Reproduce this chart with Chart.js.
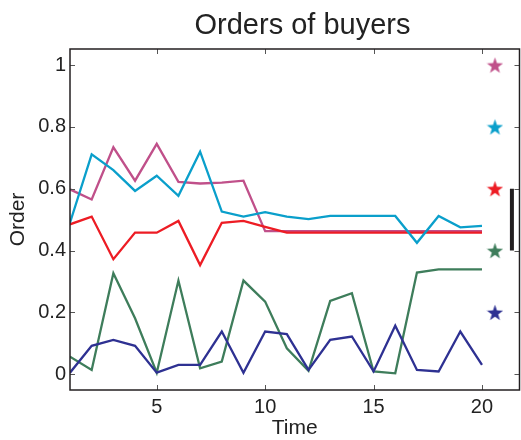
<!DOCTYPE html>
<html>
<head>
<meta charset="utf-8">
<script src="https://cdn.jsdelivr.net/npm/chart.js@4/dist/chart.umd.min.js"></script>
<style>
  html, body { margin: 0; padding: 0; background: #fff; }
  #wrap { width: 521px; height: 440px; }
</style>
</head>
<body>
<div id="wrap"><canvas id="c" width="521" height="440"></canvas></div>
<script>
// Time steps and each buyer's order over time
const times = [1,2,3,4,5,6,7,8,9,10,11,12,13,14,15,16,17,18,19,20];
const pinkOrder  = [0.598,0.565,0.734,0.626,0.745,0.622,0.617,0.620,0.626,0.463,0.463,0.463,0.463,0.463,0.463,0.463,0.463,0.463,0.463,0.463];
const cyanOrder  = [0.490,0.711,0.660,0.593,0.642,0.577,0.720,0.526,0.510,0.524,0.510,0.502,0.512,0.512,0.512,0.512,0.425,0.512,0.475,0.480];
const redOrder   = [0.485,0.510,0.372,0.458,0.458,0.496,0.353,0.490,0.496,0.477,0.458,0.458,0.458,0.458,0.458,0.458,0.458,0.458,0.458,0.458];
const greenOrder = [0.057,0.014,0.327,0.181,0.005,0.303,0.019,0.041,0.303,0.235,0.084,0.011,0.237,0.262,0.009,0.003,0.329,0.339,0.339,0.339];
const navyOrder  = [0.005,0.092,0.111,0.092,0.005,0.030,0.030,0.138,0.005,0.138,0.130,0.014,0.111,0.122,0.009,0.157,0.014,0.009,0.138,0.030];

// Reference star markers (one per buyer) and the bracket bar
const starTime = 20.6;
const starLevels = [1.0, 0.8, 0.6, 0.4, 0.2];
const barTime = 21.38;
const barRange = [0.4, 0.6];

// Tick labels
const xTicks = [5, 10, 15, 20];
const yTicks = [0, 0.2, 0.4, 0.6, 0.8, 1];

const titleText = 'Orders of buyers';

const colors = {
  pink: '#c0508a',
  cyan: '#0a9fcb',
  red: '#ed1c24',
  green: '#3e7d5b',
  navy: '#2e3192',
  ink: '#231f20'
};
const starColors = [colors.pink, colors.cyan, colors.red, colors.green, colors.navy];

function starCanvas(color, size) {
  const cv = document.createElement('canvas');
  cv.width = size; cv.height = size;
  const g = cv.getContext('2d');
  const cx = size / 2, cy = size / 2 + size * 0.05;
  const R = size / 2, r = R * 0.4;
  g.beginPath();
  for (let i = 0; i < 10; i++) {
    const rad = i % 2 === 0 ? R : r;
    const a = -Math.PI / 2 + i * Math.PI / 5;
    const px = cx + rad * Math.cos(a), py = cy + rad * Math.sin(a);
    if (i === 0) g.moveTo(px, py); else g.lineTo(px, py);
  }
  g.closePath();
  g.fillStyle = color;
  g.fill();
  return cv;
}

function series(values, color) {
  return {
    type: 'line',
    data: times.map((t, i) => ({ x: t, y: values[i] })),
    borderColor: color,
    backgroundColor: color,
    borderWidth: 2.3,
    pointRadius: 0,
    tension: 0,
    fill: false
  };
}

const FONT = '"Liberation Sans", Arial, Helvetica, sans-serif';

// Title text, placed over the plot box
const titlePlugin = {
  id: 'plotTitle',
  afterDraw(chart) {
    const { ctx } = chart;
    ctx.save();
    ctx.font = '29px ' + FONT;
    ctx.fillStyle = '#222';
    ctx.textAlign = 'center';
    ctx.textBaseline = 'alphabetic';
    ctx.fillText(titleText, 302.5, 33.5);
    ctx.restore();
  }
};

// Box frame with inward ticks on all four sides
const framePlugin = {
  id: 'frame',
  afterDatasetsDraw(chart) {
    const { ctx, chartArea: a, scales } = chart;
    ctx.save();
    ctx.lineWidth = 1;
    ctx.strokeStyle = '#555';
    ctx.beginPath();
    xTicks.forEach(v => {
      const px = Math.round(scales.x.getPixelForValue(v)) + 0.5;
      ctx.moveTo(px, a.bottom); ctx.lineTo(px, a.bottom - 5);
      ctx.moveTo(px, a.top); ctx.lineTo(px, a.top + 5);
    });
    yTicks.forEach(v => {
      const py = Math.round(scales.y.getPixelForValue(v)) + 0.5;
      ctx.moveTo(a.left, py); ctx.lineTo(a.left + 5, py);
      ctx.moveTo(a.right, py); ctx.lineTo(a.right - 5, py);
    });
    ctx.stroke();
    ctx.lineWidth = 1.5;
    ctx.strokeStyle = colors.ink;
    ctx.strokeRect(a.left, a.top, a.right - a.left, a.bottom - a.top);
    ctx.restore();
  }
};

const datasets = [
  series(navyOrder, colors.navy),
  series(greenOrder, colors.green),
  series(cyanOrder, colors.cyan),
  series(redOrder, colors.red),
  series(pinkOrder, colors.pink),
  {
    type: 'scatter',
    data: starLevels.map(v => ({ x: starTime, y: v })),
    pointStyle: starColors.map(c => starCanvas(c, 17)),
    pointRadius: 8,
    pointHoverRadius: 8
  },
  {
    type: 'line',
    data: barRange.map(v => ({ x: barTime, y: v })),
    borderColor: colors.ink,
    borderWidth: 4,
    pointRadius: 0,
    fill: false
  }
];

new Chart(document.getElementById('c'), {
  data: { datasets },
  options: {
    responsive: false,
    animation: false,
    events: [],
    layout: { autoPadding: false, padding: { left: 0, right: 1.5, top: 49, bottom: 0 } },
    plugins: {
      legend: { display: false },
      tooltip: { enabled: false },
      title: { display: false }
    },
    scales: {
      x: {
        type: 'linear',
        min: 1,
        max: 21.73,
        afterBuildTicks(s) { s.ticks = xTicks.map(v => ({ value: v })); },
        afterFit(s) { s.height = 50; },
        grid: { display: false, drawTicks: false, tickLength: 0 },
        border: { display: false },
        ticks: {
          color: '#222',
          padding: 5,
          maxRotation: 0,
          autoSkip: false,
          font: { family: FONT, size: 20 }
        },
        title: {
          display: true,
          text: 'Time',
          color: '#222',
          padding: { top: 0, bottom: -1 },
          font: { family: FONT, size: 21 }
        }
      },
      y: {
        type: 'linear',
        min: -0.051,
        max: 1.052,
        afterBuildTicks(s) { s.ticks = yTicks.map(v => ({ value: v })); },
        afterFit(s) { s.width = 70; },
        grid: { display: false, drawTicks: false, tickLength: 0 },
        border: { display: false },
        ticks: {
          color: '#222',
          padding: 4,
          autoSkip: false,
          font: { family: FONT, size: 20 },
          callback: v => String(v)
        },
        title: {
          display: true,
          text: 'Order',
          color: '#222',
          padding: { top: 6, bottom: 0 },
          font: { family: FONT, size: 21 }
        }
      }
    }
  },
  plugins: [framePlugin, titlePlugin]
});
</script>
</body>
</html>
